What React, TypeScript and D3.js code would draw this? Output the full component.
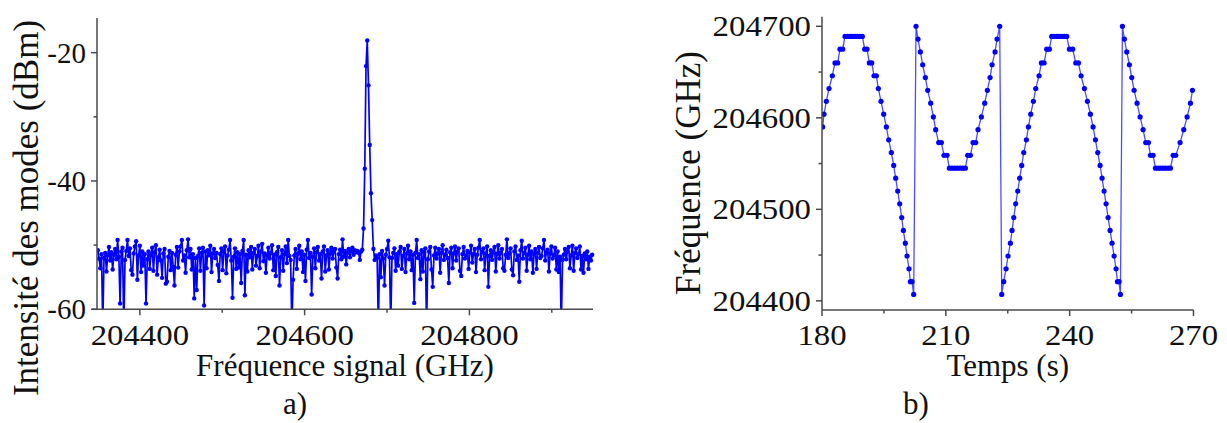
import React from 'react';
import * as d3 from 'd3';

// ---------- Panel a) : optical spectrum ----------
const spectrumStartGHz = 204349;
const spectrumStepGHz = 1.5;
const spectrumDbm = [
  -50.8, -52.1, -53.6, -51.4, -63, -52.0, -51.2, -54.1, -51.6, -50.3, -52.4, -51.1, -53.8, -51.5, -50.6, -52.2, -49.2, -51.8, -59.1, -51.0,
  -50.4, -63, -52.3, -50.9, -49.2, -51.7, -50.5, -53.9, -54.6, -51.3, -50.2, -49.4, -55.4, -51.6, -50.1, -54.2, -51.0, -53.2, -51.4, -59.1,
  -52.2, -51.0, -53.7, -51.5, -50.4, -54.0, -51.1, -50.0, -54.6, -51.9, -50.7, -52.4, -55.1, -51.3, -50.6, -56.0, -55.7, -51.8, -50.9, -53.9,
  -51.2, -53.4, -56.3, -51.5, -50.3, -53.5, -51.0, -50.2, -49.2, -52.4, -51.6, -54.3, -50.8, -49.1, -51.9, -50.6, -53.8, -51.4, -58.3, -52.0,
  -57.0, -51.7, -50.5, -54.0, -51.2, -50.4, -59.4, -51.0, -53.6, -50.8, -51.6, -50.1, -54.2, -51.3, -50.6, -52.0, -51.2, -53.1, -55.6, -51.4,
  -50.5, -53.9, -51.0, -50.2, -54.4, -51.6, -50.7, -49.2, -52.4, -58.2, -51.8, -50.5, -53.7, -51.1, -53.5, -51.4, -55.9, -50.9, -49.2, -57.8,
  -51.5, -54.1, -50.8, -51.9, -50.3, -53.8, -51.2, -50.6, -53.2, -51.7, -50.1, -53.6, -51.0, -49.8, -52.5, -51.3, -54.3, -51.6, -50.4, -52.1,
  -51.2, -50.0, -53.9, -51.5, -54.8, -51.1, -50.3, -56.3, -51.9, -50.8, -54.0, -51.4, -50.2, -52.8, -49.2, -51.7, -52.3, -63, -55.4, -51.6,
  -50.6, -53.7, -51.3, -50.1, -52.2, -51.0, -54.2, -51.5, -55.6, -50.7, -49.2, -52.0, -51.2, -57.7, -51.8, -50.5, -53.6, -51.1, -50.3, -52.4,
  -51.4, -55.2, -51.0, -50.2, -54.1, -51.6, -50.8, -53.8, -51.3, -50.4, -52.1, -51.0, -50.6, -53.5, -55.2, -51.4, -50.7, -52.2, -49.1, -51.8,
  -50.9, -53.0, -51.2, -50.6, -51.9, -51.0, -50.4, -51.5, -50.8, -51.1, -50.9, -51.2, -52.3, -51.0, -50.7, -47.4, -38.1, -22.1, -18.1, -25.1,
  -34.4, -41.9, -46.1, -50.6, -52.3, -51.6, -52.0, -63, -51.4, -55.0, -50.9, -52.1, -56.3, -51.5, -50.6, -49.3, -51.9, -63, -52.0, -51.2,
  -50.5, -54.0, -51.4, -53.2, -51.0, -50.3, -53.7, -51.7, -50.6, -54.2, -51.3, -50.1, -52.2, -51.0, -53.9, -51.5, -59.0, -51.2, -49.2, -52.0,
  -51.4, -55.3, -50.8, -54.1, -51.1, -50.5, -63, -52.2, -51.0, -50.3, -53.8, -56.5, -51.6, -50.4, -52.1, -51.3, -50.6, -54.3, -51.2, -50.0,
  -52.3, -51.5, -50.7, -52.0, -55.9, -51.1, -50.4, -53.6, -51.3, -50.2, -52.4, -51.0, -50.5, -54.0, -54.8, -51.4, -50.3, -52.1, -51.6, -50.9,
  -53.7, -51.2, -50.1, -52.7, -51.4, -50.6, -54.2, -51.5, -50.4, -49.2, -52.2, -51.0, -50.5, -53.9, -51.3, -50.2, -56.5, -51.7, -50.8, -52.3,
  -51.1, -50.3, -54.1, -51.4, -50.0, -52.1, -51.2, -50.6, -53.6, -54.0, -51.5, -49.1, -52.0, -51.3, -50.5, -53.8, -54.7, -51.0, -50.2, -52.3,
  -51.6, -55.7, -50.8, -49.3, -52.1, -51.2, -50.4, -54.0, -51.5, -50.1, -52.2, -51.0, -54.3, -51.4, -50.6, -53.7, -51.2, -50.3, -52.0, -51.7,
  -50.5, -49.2, -52.4, -51.1, -50.7, -54.1, -51.3, -50.2, -52.1, -51.6, -50.4, -53.8, -51.0, -54.2, -51.8, -63, -52.3, -51.5, -50.6, -52.2,
  -51.0, -50.3, -53.6, -51.6, -50.1, -54.0, -51.2, -50.5, -52.0, -51.4, -50.2, -53.8, -51.7, -54.3, -51.3, -52.2, -51.0, -53.7, -51.8, -52.4,
  -51.5,
];
const spectrumXMajor = [204400, 204600, 204800];
const spectrumXMinor = [204500, 204700, 204900];
const spectrumYMajor = [-60, -40, -20];
const spectrumYMinor = [-50, -30];

// ---------- Panel b) : frequency vs time ----------
const sweepTime = [
  // rise, plateau, fall
  180.16, 180.48, 181.05, 181.70, 182.50, 183.15, 183.80, 184.36, 185.01, 185.57,
  186.14, 186.79, 187.35, 188.00, 188.56, 189.21, 189.77, 190.34, 190.90, 191.47,
  192.04, 192.60, 193.17, 193.65, 194.30, 194.94, 195.59, 196.16, 196.80, 197.37,
  197.85, 198.34, 198.82, 199.31, 199.71, 200.19, 200.60, 201.08, 201.41, 201.81, 202.21,
  // valley
  202.78, 203.26, 203.83, 204.39, 205.04, 205.61, 206.33, 206.98, 207.54, 208.27,
  208.92, 209.56, 210.29, 210.86, 211.50, 212.15, 212.79, 213.44, 214.09, 214.73,
  215.30, 215.95, 216.59, 217.24, 217.80, 218.61, 219.42, 220.06, 220.71, 221.20,
  221.92, 222.41, 223.05,
  // rise, plateau, fall
  223.54, 224.02, 224.59, 225.07, 225.64, 226.04, 226.45, 226.93, 227.42, 227.90,
  228.38, 228.87, 229.52, 230.00, 230.57, 231.21, 231.78, 232.58, 233.15, 233.80,
  234.44, 235.09, 235.65, 236.22, 236.87, 237.43, 238.08, 238.64, 239.29, 239.94,
  240.74, 241.47, 242.12, 242.76, 243.57, 244.30, 245.02, 245.67, 246.24, 246.80,
  247.37, 247.85, 248.34, 248.82, 249.31, 249.79, 250.27, 250.76, 251.24, 251.57,
  251.97, 252.29,
  // valley
  252.78, 253.26, 253.83, 254.47, 255.04, 255.61, 256.33, 257.06, 257.79, 258.43,
  259.08, 259.56, 260.21, 260.78, 261.42, 261.99, 262.63, 263.20, 263.85, 264.41,
  265.06, 265.70, 266.75, 267.64, 268.45, 269.26, 269.74,
];
const sweepFreq = [
  204590, 204604, 204618, 204632, 204646, 204660, 204660, 204675, 204675, 204689,
  204689, 204689, 204689, 204689, 204689, 204689, 204689, 204675, 204675, 204660,
  204660, 204646, 204646, 204632, 204618, 204604, 204590, 204576, 204562, 204548,
  204534, 204520, 204506, 204491, 204477, 204463, 204449, 204435, 204421, 204421, 204407,

  204700, 204686, 204672, 204658, 204644, 204630, 204616, 204601, 204587, 204573,
  204573, 204559, 204559, 204545, 204545, 204545, 204545, 204545, 204545, 204545,
  204559, 204559, 204573, 204573, 204587, 204601, 204616, 204630, 204644, 204658,
  204672, 204686, 204700,

  204407, 204421, 204435, 204449, 204463, 204477, 204491, 204506, 204520, 204534,
  204548, 204562, 204576, 204590, 204604, 204618, 204632, 204646, 204660, 204660,
  204675, 204675, 204689, 204689, 204689, 204689, 204689, 204689, 204689, 204675,
  204675, 204660, 204660, 204646, 204632, 204618, 204604, 204590, 204576, 204562,
  204548, 204534, 204520, 204506, 204491, 204477, 204463, 204449, 204435, 204421,
  204421, 204407,

  204700, 204686, 204672, 204658, 204644, 204630, 204616, 204601, 204587, 204573,
  204573, 204559, 204559, 204545, 204545, 204545, 204545, 204545, 204545, 204545,
  204559, 204559, 204573, 204587, 204601, 204616, 204630,
];
const sweepXMajor = [180, 210, 240, 270];
const sweepXMinor = [195, 225, 255];
const sweepYMajor = [204400, 204500, 204600, 204700];
const sweepYMinor = [204450, 204550, 204650];

const FONT = "'Liberation Serif', 'Times New Roman', serif";
const AXIS = '#4a4a4a';
const BLUE = '#0000ff';
const TICK_FS = 29;
const DIGIT_W = 16.4;
const TITLE_FS = 31;
const YTITLE_FS = 35;
const INK = '#111';

function NumLabel(props: { x: number; y: number; text: string; anchor: 'middle' | 'end'; dy?: string }) {
  const digitsOnly = /^\d+$/.test(props.text);
  const extra: any = digitsOnly
    ? { textLength: DIGIT_W * props.text.length, lengthAdjust: 'spacingAndGlyphs' }
    : {};
  return (
    <text x={props.x} y={props.y} dy={props.dy} fontSize={TICK_FS} textAnchor={props.anchor} fill={INK} {...extra}>
      {props.text}
    </text>
  );
}

export default function App() {
  // panel a scales
  const ax = d3.scaleLinear().domain([204348, 204950]).range([97, 593]);
  const ay = d3.scaleLinear().domain([-60, -14.6]).range([309.3, 18]);
  const spec = spectrumDbm.map((v, i) => ({ f: spectrumStartGHz + i * spectrumStepGHz, v }));
  const specLine = d3.line<{ f: number; v: number }>().x(d => ax(d.f)).y(d => ay(d.v))(spec) || '';

  // panel b scales
  const bx = d3.scaleLinear().domain([180, 270]).range([822, 1193.5]);
  const by = d3.scaleLinear().domain([204390, 204710.5]).range([310, 16.7]);
  const sweep = sweepTime.map((t, i) => ({ t, f: sweepFreq[i] }));
  const sweepLine = d3.line<{ t: number; f: number }>().x(d => bx(d.t)).y(d => by(d.f))(sweep) || '';

  const [ax0, ax1] = ax.range();
  const [ay0, ay1] = ay.range();
  const [bx0, bx1] = bx.range();
  const [by0, by1] = by.range();

  return (
    <svg width={1227} height={423} style={{ position: 'absolute', left: 0, top: 0, background: '#fff' }}
      fontFamily={FONT}>
      <defs>
        <clipPath id="clipA">
          <rect x={ax0} y={0} width={ax1 - ax0 + 4} height={ay0} />
        </clipPath>
        <clipPath id="clipB">
          <rect x={bx0} y={0} width={bx1 - bx0 + 4} height={by0} />
        </clipPath>
      </defs>

      {/* ---------- Panel a ---------- */}
      <g clipPath="url(#clipA)">
        <path d={specLine} fill="none" stroke={BLUE} strokeWidth={1.7} strokeLinejoin="round" />
        {spec.map((d, i) => (
          <circle key={i} cx={ax(d.f)} cy={ay(d.v)} r={2.2} fill={BLUE} />
        ))}
      </g>
      <line x1={ax0 - 5} x2={ax1} y1={ay0} y2={ay0} stroke={AXIS} strokeWidth={1.5} />
      <line x1={ax0} x2={ax0} y1={ay1} y2={ay0} stroke={AXIS} strokeWidth={1.5} />
      {spectrumXMajor.map(v => (
        <g key={'axM' + v}>
          <line x1={ax(v)} x2={ax(v)} y1={ay0} y2={ay0 + 6} stroke={AXIS} strokeWidth={1.5} />
          <NumLabel x={ax(v)} y={345} text={String(v)} anchor="middle" />
        </g>
      ))}
      {spectrumXMinor.map(v => (
        <line key={'axm' + v} x1={ax(v)} x2={ax(v)} y1={ay0} y2={ay0 + 3.5} stroke={AXIS} strokeWidth={1.5} />
      ))}
      {spectrumYMajor.map(v => (
        <g key={'ayM' + v}>
          <line x1={ax0 - 6} x2={ax0} y1={ay(v)} y2={ay(v)} stroke={AXIS} strokeWidth={1.5} />
          <NumLabel x={86} y={ay(v)} dy="0.34em" text={String(v)} anchor="end" />
        </g>
      ))}
      {spectrumYMinor.map(v => (
        <line key={'aym' + v} x1={ax0 - 3.5} x2={ax0} y1={ay(v)} y2={ay(v)} stroke={AXIS} strokeWidth={1.5} />
      ))}
      <text x={(ax0 + ax1) / 2} y={376} fontSize={TITLE_FS} textAnchor="middle" fill={INK}>Fréquence signal (GHz)</text>
      <text transform={`translate(38, 208) rotate(-90)`} fontSize={YTITLE_FS} textAnchor="middle" fill={INK}>Intensité des modes (dBm)</text>
      <text x={295} y={414} fontSize={TITLE_FS} textAnchor="middle" fill={INK}>a)</text>

      {/* ---------- Panel b ---------- */}
      <g clipPath="url(#clipB)">
        <path d={sweepLine} fill="none" stroke={BLUE} strokeWidth={1.3} strokeOpacity={0.7} strokeLinejoin="round" />
        {sweep.map((d, i) => (
          <circle key={i} cx={bx(d.t)} cy={by(d.f)} r={2.6} fill={BLUE} />
        ))}
      </g>
      <line x1={bx0} x2={bx1} y1={by0} y2={by0} stroke={AXIS} strokeWidth={1.5} />
      <line x1={bx0} x2={bx0} y1={by1} y2={by0} stroke={AXIS} strokeWidth={1.5} />
      {sweepXMajor.map(v => (
        <g key={'bxM' + v}>
          <line x1={bx(v)} x2={bx(v)} y1={by0} y2={by0 + 6} stroke={AXIS} strokeWidth={1.5} />
          <NumLabel x={bx(v)} y={345} text={String(v)} anchor="middle" />
        </g>
      ))}
      {sweepXMinor.map(v => (
        <line key={'bxm' + v} x1={bx(v)} x2={bx(v)} y1={by0} y2={by0 + 3.5} stroke={AXIS} strokeWidth={1.5} />
      ))}
      {sweepYMajor.map(v => (
        <g key={'byM' + v}>
          <line x1={bx0 - 6} x2={bx0} y1={by(v)} y2={by(v)} stroke={AXIS} strokeWidth={1.5} />
          <NumLabel x={811} y={by(v)} dy="0.34em" text={String(v)} anchor="end" />
        </g>
      ))}
      {sweepYMinor.map(v => (
        <line key={'bym' + v} x1={bx0 - 3.5} x2={bx0} y1={by(v)} y2={by(v)} stroke={AXIS} strokeWidth={1.5} />
      ))}
      <text x={(bx0 + bx1) / 2} y={376} fontSize={TITLE_FS} textAnchor="middle" fill={INK}>Temps (s)</text>
      <text transform={`translate(700, 173) rotate(-90)`} fontSize={YTITLE_FS} textAnchor="middle" fill={INK}>Fréquence (GHz)</text>
      <text x={916} y={414} fontSize={TITLE_FS} textAnchor="middle" fill={INK}>b)</text>
    </svg>
  );
}
